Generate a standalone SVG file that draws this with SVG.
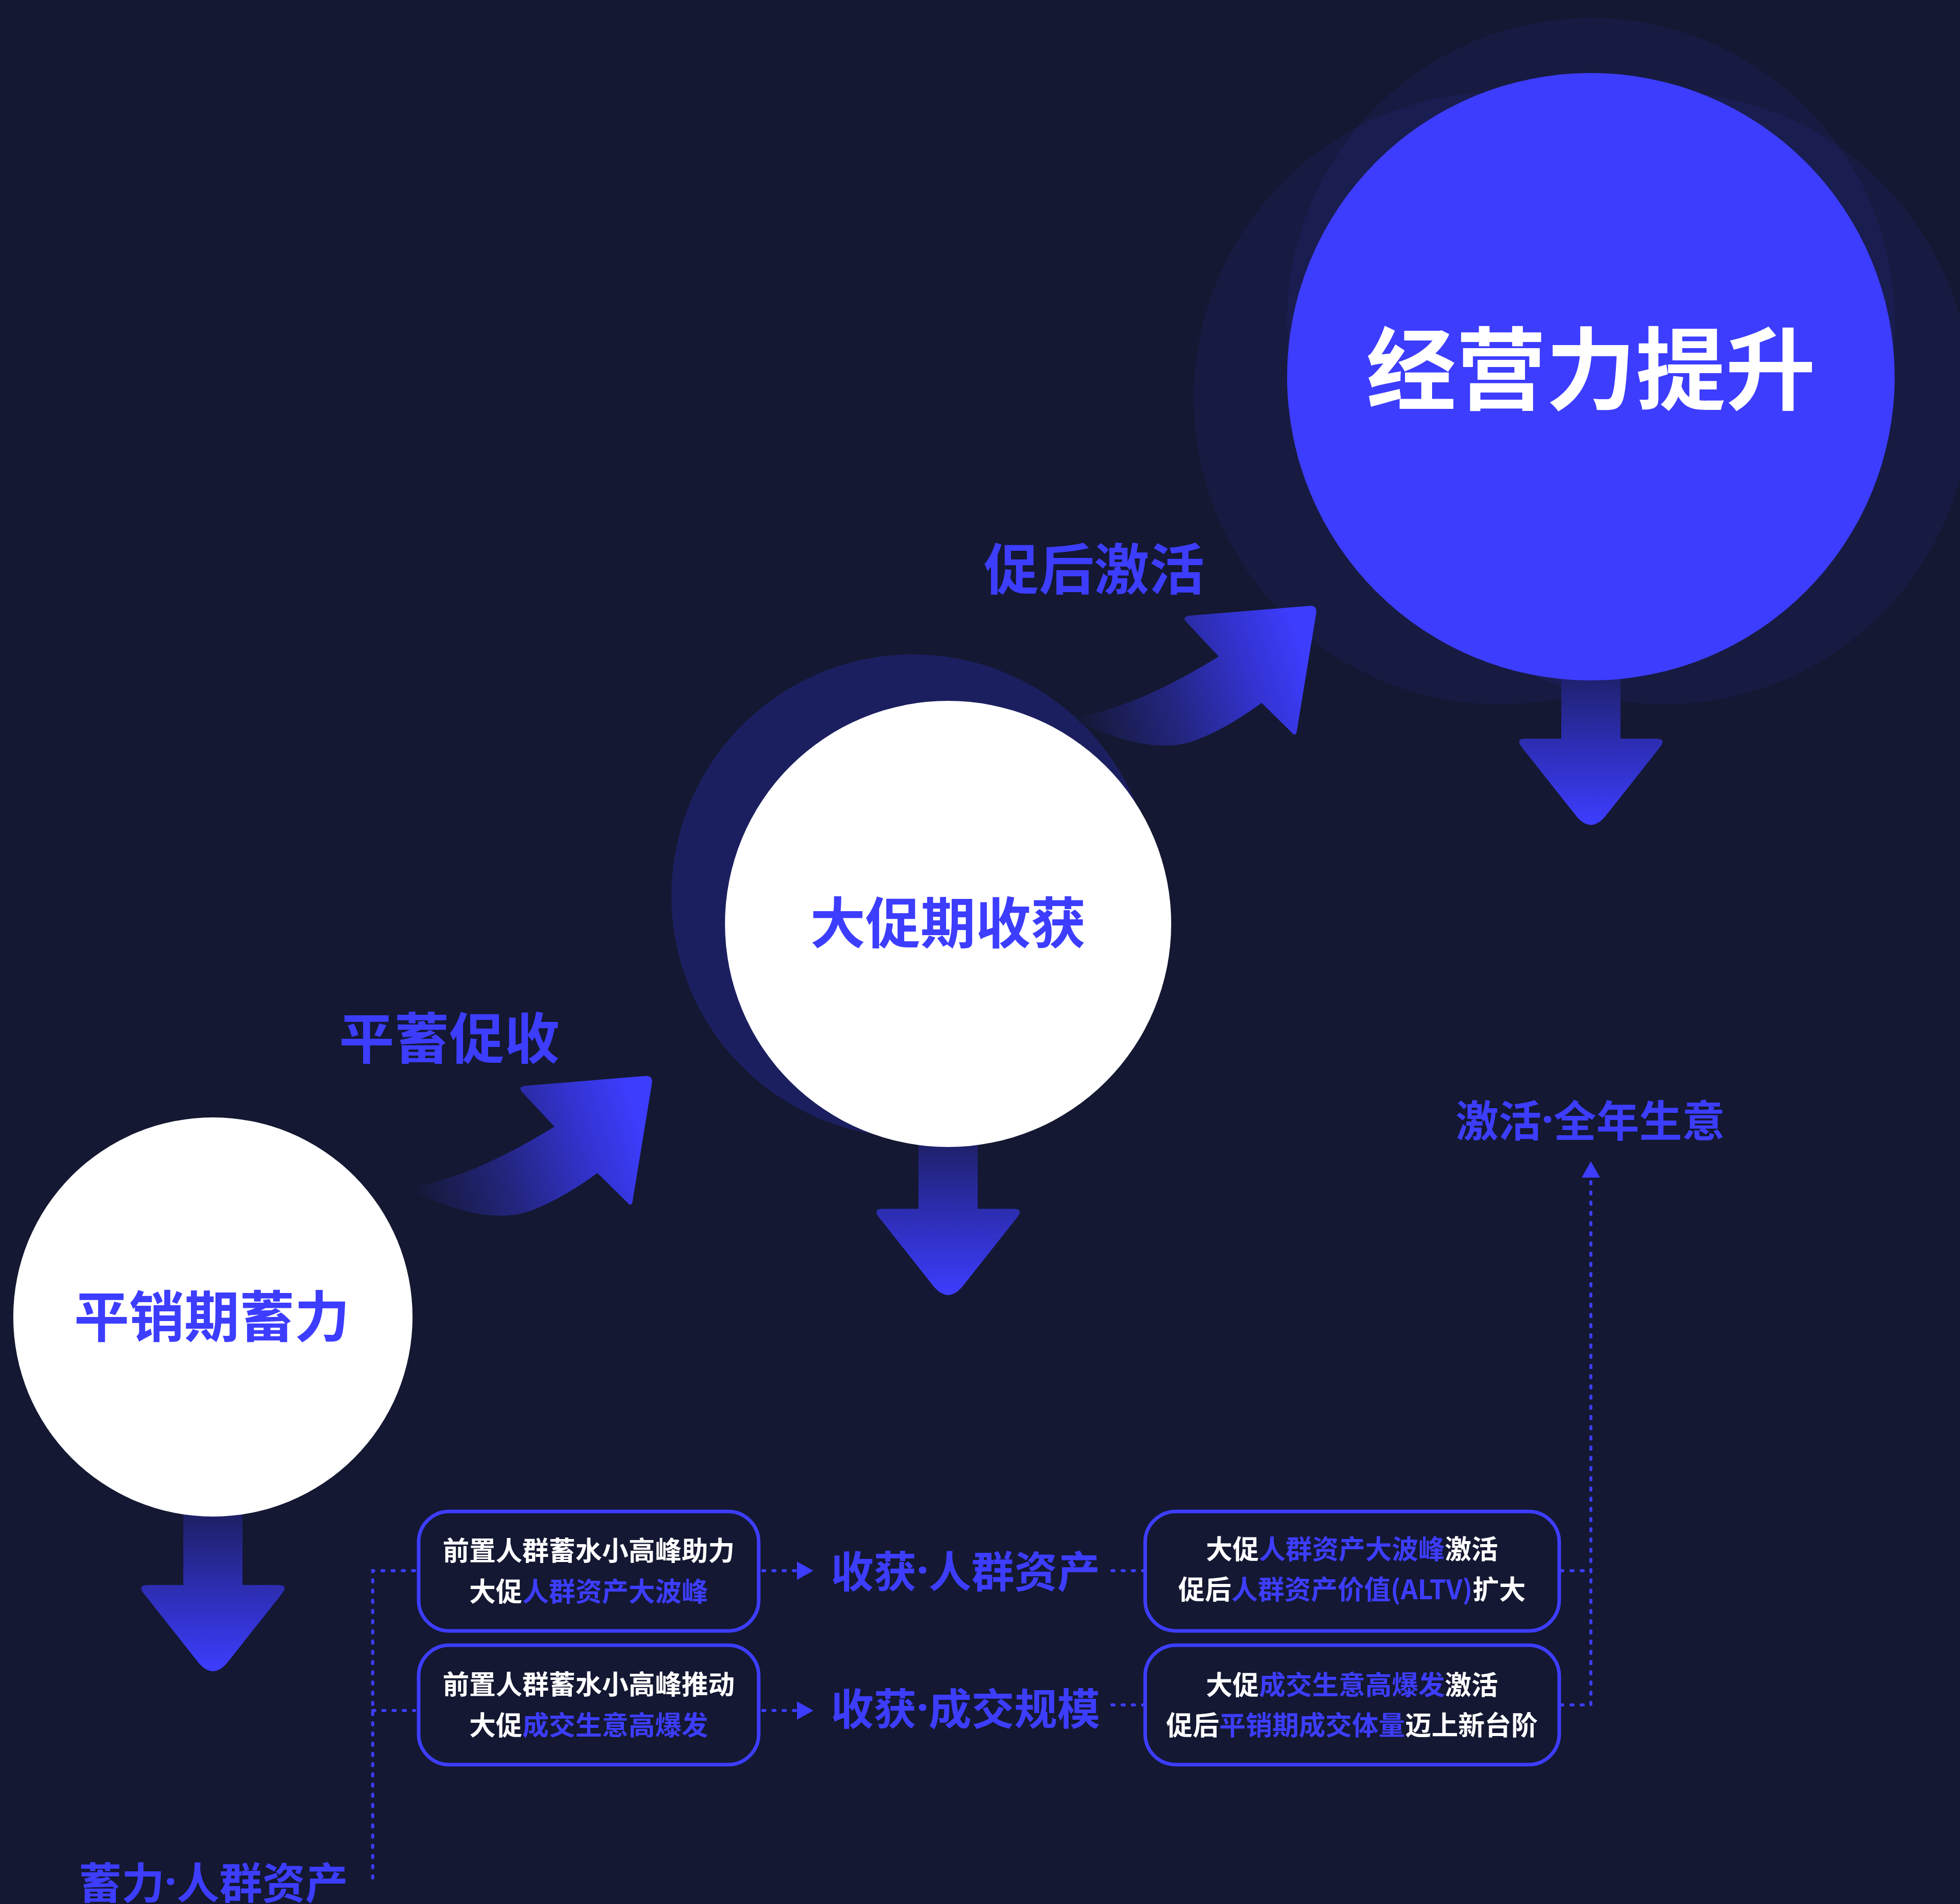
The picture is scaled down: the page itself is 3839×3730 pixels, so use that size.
<svg xmlns="http://www.w3.org/2000/svg" width="3839" height="3730" viewBox="0 0 3839 3730">
<style>
text{font-family:"Noto Sans CJK SC","Noto Sans",sans-serif;font-weight:700;text-anchor:middle;dominant-baseline:central}
.dot{font-family:"Noto Sans","Liberation Sans",sans-serif}
.b{fill:#3d3dff}
.w{fill:#ffffff}
.node-lg{font-size:108px}
.lbl{font-size:108px;fill:#3d3dff}
.lbl-s{font-size:84px;fill:#3d3dff}
.box{fill:none;stroke:#3d3dff;stroke-width:7}
.bt{font-size:52px;fill:#ffffff}
.dash{fill:none;stroke:#3d3dff;stroke-width:6;stroke-linecap:round;stroke-dasharray:4 16}
.halo{fill:#3d3dff}
</style>
<defs>
<linearGradient id="gDown" x1="0" y1="0" x2="0" y2="1">
<stop offset="0" stop-color="#1b1d58"/>
<stop offset="0.5" stop-color="#2c2db0"/>
<stop offset="1" stop-color="#3d3dff"/>
</linearGradient>
<linearGradient id="gCurve" gradientUnits="userSpaceOnUse" x1="-470" y1="235" x2="-20" y2="90">
<stop offset="0" stop-color="#141832"/>
<stop offset="0.4" stop-color="#23257e"/>
<stop offset="0.75" stop-color="#3333d0"/>
<stop offset="1" stop-color="#3d3dff"/>
</linearGradient>
<path id="downArrow" fill="url(#gDown)" d="M -58,-160 L 58,-160 L 58,0 L 128,0 Q 148,0 136,16 L 30,150 Q 0,188 -30,150 L -136,16 Q -148,0 -128,0 L -58,0 Z"/>
<path id="curveArrow" fill="url(#gCurve)" d="M -14,0 L -246,19 Q -264,21 -252,33 L -190,99 C -240,130 -350,195 -460,216 Q -474,224 -452,233 C -390,262 -300,290 -232,262 C -185,244 -140,215 -106,190 L -48,247 Q -39,258 -37,245 L 1,14 Q 3,-2 -14,0 Z"/>
<marker id="tri" markerUnits="userSpaceOnUse" markerWidth="34" markerHeight="38" refX="0" refY="18" orient="auto" viewBox="0 0 34 36">
<path d="M0,0 L32,18 L0,36 Z" fill="#3d3dff"/>
</marker>
</defs>
<rect x="0" y="0" width="3839" height="3730" fill="#141832"/>

<g id="halos">
<circle class="halo" cx="1788" cy="1755" r="473" opacity="0.22"/>
<circle class="halo" cx="3116" cy="630" r="595" opacity="0.08"/>
<circle class="halo" cx="2938" cy="780" r="600" opacity="0.08"/>
<circle class="halo" cx="3260" cy="780" r="600" opacity="0.08"/>
</g>

<g id="connectors">
<use href="#curveArrow" transform="translate(1276,2108)"/>
<use href="#curveArrow" transform="translate(2577,1187)"/>
<use href="#downArrow" x="417" y="3105"/>
<use href="#downArrow" x="1857" y="2368"/>
<use href="#downArrow" x="3116" y="1447"/>
<path class="dash" d="M812,3077 H730 V3682"/>
<path class="dash" d="M730,3351 H812"/>
<path class="dash" d="M1494,3077 H1561" marker-end="url(#tri)"/>
<path class="dash" d="M1494,3351 H1561" marker-end="url(#tri)"/>
<path class="dash" d="M2178,3077 H2239"/>
<path class="dash" d="M2178,3340 H2239"/>
<path class="dash" d="M3057,3077 H3116"/>
<path class="dash" d="M3057,3340 H3116 V2307" marker-end="url(#tri)"/>
</g>

<g id="node-pingxiao">
<circle cx="417" cy="2580" r="391" fill="#ffffff"/>
<text class="node-lg b" x="415" y="2572">平销期蓄力</text>
</g>
<g id="node-dacu">
<circle cx="1857" cy="1810" r="437" fill="#ffffff"/>
<text class="node-lg b" x="1857" y="1801">大促期收获</text>
</g>
<g id="node-jingying">
<circle cx="3116" cy="738" r="595" fill="#3d3dff"/>
<text class="w" x="3116" y="712" style="font-size:176px">经营力提升</text>
</g>

<g id="label-pingxu"><text class="lbl" x="880" y="2027">平蓄促收</text></g>
<g id="label-cuhou"><text class="lbl" x="2143" y="1108">促后激活</text></g>
<g id="label-jihuo"><text class="lbl-s" x="3115" y="2190">激活<tspan class="dot">·</tspan>全年生意</text></g>
<g id="label-xuli"><text class="lbl-s" x="418" y="3683">蓄力<tspan class="dot">·</tspan>人群资产</text></g>
<g id="label-shouhuo1"><text class="lbl-s" x="1891" y="3073">收获<tspan class="dot">·</tspan>人群资产</text></g>
<g id="label-shouhuo2"><text class="lbl-s" x="1891" y="3342">收获<tspan class="dot">·</tspan>成交规模</text></g>

<g id="box-1">
<rect class="box" x="820" y="2961" width="666" height="234" rx="60"/>
<text class="bt" x="1153" y="3034">前置人群蓄水小高峰助力</text>
<text class="bt" x="1153" y="3114">大促<tspan class="b">人群资产大波峰</tspan></text>
</g>
<g id="box-2">
<rect class="box" x="820" y="3223" width="666" height="234" rx="60"/>
<text class="bt" x="1153" y="3296">前置人群蓄水小高峰推动</text>
<text class="bt" x="1153" y="3376">大促<tspan class="b">成交生意高爆发</tspan></text>
</g>
<g id="box-3">
<rect class="box" x="2243" y="2961" width="811" height="234" rx="60"/>
<text class="bt" x="2648" y="3031">大促<tspan class="b">人群资产大波峰</tspan>激活</text>
<text class="bt" x="2648" y="3110">促后<tspan class="b">人群资产价值(ALTV)</tspan>扩大</text>
</g>
<g id="box-4">
<rect class="box" x="2243" y="3223" width="811" height="234" rx="60"/>
<text class="bt" x="2648" y="3297">大促<tspan class="b">成交生意高爆发</tspan>激活</text>
<text class="bt" x="2648" y="3376">促后<tspan class="b">平销期成交体量</tspan>迈上新台阶</text>
</g>
</svg>
